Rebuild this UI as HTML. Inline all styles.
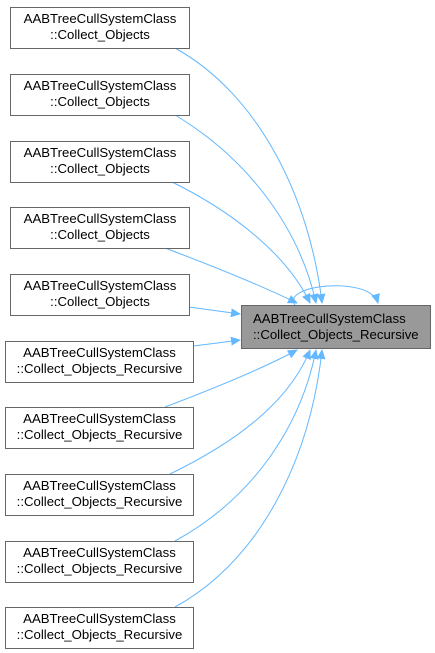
<html><head><style>
body{margin:0;background:#fff;width:435px;height:653px;position:relative;overflow:hidden;font-family:"Liberation Sans",Arial,sans-serif;font-size:13.2px}
.b{position:absolute;border:1px solid #666;background:#fff;text-align:center;line-height:16px;box-sizing:border-box;padding-top:3px;color:#000;white-space:nowrap}
</style></head><body>
<svg width="435" height="653" style="position:absolute;left:0;top:0">
<defs><marker id="a" markerWidth="10" markerHeight="10" refX="9" refY="5" orient="auto" markerUnits="userSpaceOnUse"><path d="M0,0.5 L10,5 L0,9.5z" fill="#63b8ff"/></marker></defs>
<g fill="none" stroke="#63b8ff" stroke-width="1" marker-end="url(#a)">
<path d="M175,48 C260,95 310,200 322,303"/>
<path d="M175,115 C250,160 300,230 316,303"/>
<path d="M170,181 C240,215 290,260 310,303"/>
<path d="M165,248 C210,265 260,285 297,303"/>
<path d="M189,307 C210,310 225,312 240,314"/>
<path d="M193,346 C210,344 225,342 240,340"/>
<path d="M165,407 C210,390 260,370 297,350"/>
<path d="M170,474 C240,440 290,400 310,350"/>
<path d="M175,541 C250,500 300,430 316,350"/>
<path d="M175,607 C260,560 310,460 322,350"/>
<path d="M295,305 C280,285 370,275 378,303"/>
</g></svg>
<div class="b" style="left:10px;top:7px;width:180px;height:42px">AABTreeCullSystemClass<br>::Collect_Objects</div>
<div class="b" style="left:10px;top:74px;width:180px;height:42px">AABTreeCullSystemClass<br>::Collect_Objects</div>
<div class="b" style="left:10px;top:141px;width:180px;height:42px">AABTreeCullSystemClass<br>::Collect_Objects</div>
<div class="b" style="left:10px;top:207px;width:180px;height:42px">AABTreeCullSystemClass<br>::Collect_Objects</div>
<div class="b" style="left:10px;top:274px;width:180px;height:42px">AABTreeCullSystemClass<br>::Collect_Objects</div>
<div class="b" style="left:5px;top:341px;width:189px;height:42px">AABTreeCullSystemClass<br>::Collect_Objects_Recursive</div>
<div class="b" style="left:5px;top:407px;width:189px;height:42px">AABTreeCullSystemClass<br>::Collect_Objects_Recursive</div>
<div class="b" style="left:5px;top:474px;width:189px;height:42px">AABTreeCullSystemClass<br>::Collect_Objects_Recursive</div>
<div class="b" style="left:5px;top:541px;width:189px;height:42px">AABTreeCullSystemClass<br>::Collect_Objects_Recursive</div>
<div class="b" style="left:5px;top:607px;width:189px;height:42px">AABTreeCullSystemClass<br>::Collect_Objects_Recursive</div>
<div class="b" style="left:241px;top:305px;width:190px;height:44px;background:#999;padding-top:5px;text-align:left;padding-left:11px">AABTreeCullSystemClass<br>::Collect_Objects_Recursive</div>
</body></html>
